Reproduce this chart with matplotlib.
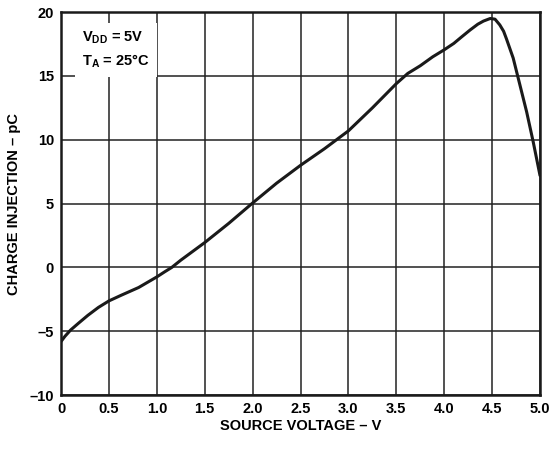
import matplotlib
matplotlib.use("Agg")
from matplotlib import pyplot as plt

# values
source_v = [0.0, 0.04, 0.1, 0.18, 0.28, 0.39, 0.5, 0.63, 0.81, 1.0, 1.08, 1.155,
            1.25, 1.5, 1.75, 2.0, 2.25, 2.5, 2.75, 3.0, 3.25, 3.5, 3.62, 3.75,
            3.88, 4.0, 4.05, 4.1, 4.18, 4.27, 4.35, 4.41, 4.48, 4.53, 4.58, 4.62,
            4.65, 4.72, 4.79, 4.86, 4.93, 5.0]
charge_pc = [-5.8, -5.4, -4.9, -4.38, -3.75, -3.13, -2.62, -2.17, -1.57, -0.74,
             -0.35, 0.0, 0.57, 1.95, 3.45, 5.05, 6.6, 8.0, 9.3, 10.7, 12.5, 14.4,
             15.2, 15.8, 16.5, 17.05, 17.3, 17.55, 18.05, 18.6, 19.05, 19.3, 19.5,
             19.45, 19.0, 18.5, 17.9, 16.4, 14.3, 12.2, 9.8, 7.2]

xticks = [0, 0.5, 1.0, 1.5, 2.0, 2.5, 3.0, 3.5, 4.0, 4.5, 5.0]
xtick_labels = ["0", "0.5", "1.0", "1.5", "2.0", "2.5", "3.0", "3.5", "4.0", "4.5", "5.0"]
yticks = [-10, -5, 0, 5, 10, 15, 20]
ytick_labels = ["\u201310", "\u20135", "0", "5", "10", "15", "20"]

plt.rcParams['font.family'] = ['Liberation Sans', 'DejaVu Sans']
plt.rcParams['font.weight'] = 'bold'
plt.rcParams['mathtext.fontset'] = 'custom'
plt.rcParams['mathtext.rm'] = 'Liberation Sans:bold'
plt.rcParams['mathtext.it'] = 'Liberation Sans:bold'
plt.rcParams['mathtext.bf'] = 'Liberation Sans:bold'

fig = plt.figure(figsize=(5.55, 4.49), dpi=100)
ax = fig.add_axes([0.110, 0.120, 0.863, 0.853])

ax.plot(source_v, charge_pc, color='#1a1a1a', lw=2.2, zorder=3,
        solid_joinstyle='round', solid_capstyle='round')

ax.set_xlim(0, 5.0)
ax.set_ylim(-10, 20)
ax.set_xticks(xticks)
ax.set_xticklabels(xtick_labels)
ax.set_yticks(yticks)
ax.set_yticklabels(ytick_labels)
ax.tick_params(length=0, labelsize=10.5, pad=5)
ax.grid(True, color='#222222', lw=1.1)
ax.set_axisbelow(True)
for s in ax.spines.values():
    s.set_linewidth(1.8)
    s.set_color('#1a1a1a')

ax.set_xlabel("SOURCE VOLTAGE \u2013 V", fontsize=10.5, fontweight='bold', labelpad=2)
ax.set_ylabel("CHARGE INJECTION \u2013 pC", fontsize=10.5, fontweight='bold', labelpad=6)

ax.text(0.22, 18.6, "$\\mathrm{V_{DD}}$ = 5V\n$\\mathrm{T_{A}}$ = 25\u00b0C",
        fontsize=10.5, fontweight='bold', va='top', ha='left', linespacing=1.5,
        bbox=dict(facecolor='white', edgecolor='none', pad=5), zorder=2)

fig.savefig("out.png", dpi=100)
